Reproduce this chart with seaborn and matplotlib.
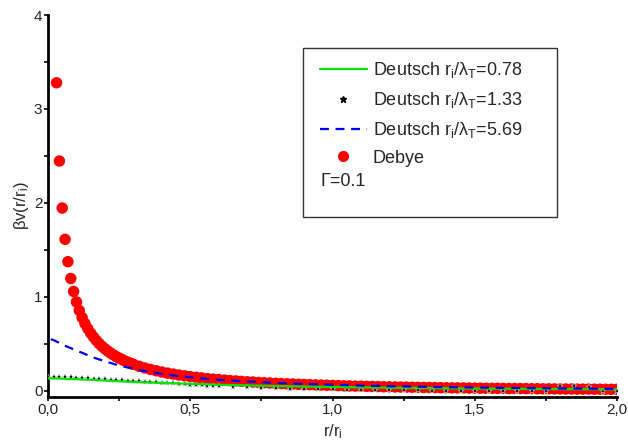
import matplotlib
matplotlib.use("Agg")
import matplotlib.pyplot as plt
import seaborn as sns
import pandas as pd
from matplotlib.patches import Rectangle
from matplotlib.lines import Line2D
from matplotlib.ticker import MultipleLocator, FixedLocator, FixedFormatter

# ---------------- data ----------------
debye_r = [0.03, 0.04, 0.05, 0.06, 0.07, 0.08, 0.09, 0.10, 0.11, 0.12, 0.13, 0.14,
           0.15, 0.16, 0.17, 0.18, 0.19, 0.20, 0.21, 0.22, 0.23, 0.24, 0.25, 0.26,
           0.27, 0.28, 0.29, 0.30, 0.32, 0.34, 0.36, 0.38, 0.40, 0.42, 0.44, 0.46,
           0.48, 0.50, 0.52, 0.54, 0.56, 0.58, 0.60, 0.62, 0.64, 0.66, 0.68, 0.70,
           0.72, 0.74, 0.76, 0.78, 0.80, 0.82, 0.84, 0.86, 0.88, 0.90, 0.92, 0.94,
           0.96, 0.98, 1.00, 1.02, 1.04, 1.06, 1.08, 1.10, 1.12, 1.14, 1.16, 1.18,
           1.20, 1.22, 1.24, 1.26, 1.28, 1.30, 1.32, 1.34, 1.36, 1.38, 1.40, 1.42,
           1.44, 1.46, 1.48, 1.50, 1.52, 1.54, 1.56, 1.58, 1.60, 1.62, 1.64, 1.66,
           1.68, 1.70, 1.72, 1.74, 1.76, 1.78, 1.80, 1.82, 1.84, 1.86, 1.88, 1.90,
           1.92, 1.94, 1.96, 1.98, 2.00]
debye_v = [3.279, 2.446, 1.946, 1.613, 1.375, 1.196, 1.058, 0.947, 0.856, 0.780,
           0.716, 0.662, 0.614, 0.573, 0.536, 0.503, 0.474, 0.448, 0.424, 0.403,
           0.383, 0.365, 0.349, 0.334, 0.319, 0.306, 0.294, 0.283, 0.262, 0.244,
           0.228, 0.214, 0.201, 0.189, 0.179, 0.169, 0.160, 0.152, 0.145, 0.138,
           0.131, 0.125, 0.120, 0.115, 0.110, 0.106, 0.101, 0.097, 0.094, 0.090,
           0.087, 0.084, 0.081, 0.078, 0.075, 0.073, 0.070, 0.068, 0.066, 0.064,
           0.062, 0.060, 0.058, 0.056, 0.054, 0.053, 0.051, 0.050, 0.048, 0.047,
           0.046, 0.044, 0.043, 0.042, 0.041, 0.040, 0.039, 0.038, 0.037, 0.036,
           0.035, 0.034, 0.033, 0.032, 0.032, 0.031, 0.030, 0.029, 0.029, 0.028,
           0.027, 0.027, 0.026, 0.025, 0.025, 0.024, 0.024, 0.023, 0.023, 0.022,
           0.022, 0.021, 0.021, 0.020, 0.020, 0.019, 0.019, 0.019, 0.018, 0.018,
           0.017, 0.017, 0.017]

green_r = [0.0, 0.1, 0.2, 0.3, 0.4, 0.5, 0.6, 0.7, 0.8, 0.9, 1.0, 1.1, 1.2, 1.3,
           1.4, 1.5, 1.6, 1.7, 1.8, 1.9, 2.0]
green_v = [0.135, 0.125, 0.110, 0.095, 0.085, 0.075, 0.065, 0.058, 0.052, 0.046,
           0.042, 0.038, 0.034, 0.031, 0.028, 0.025, 0.023, 0.021, 0.019, 0.018,
           0.016]

black_r = [0.00, 0.02, 0.04, 0.06, 0.08, 0.10, 0.12, 0.14, 0.16, 0.18, 0.20, 0.22,
           0.24, 0.26, 0.28, 0.30, 0.32, 0.34, 0.36, 0.38, 0.40, 0.42, 0.44, 0.46,
           0.48, 0.50, 0.52, 0.54, 0.56, 0.58, 0.60, 0.65, 0.70, 0.75, 0.80, 0.85,
           0.90, 0.95, 1.00, 1.05, 1.10, 1.15, 1.20, 1.25, 1.30, 1.35, 1.40, 1.45,
           1.50, 1.55, 1.60, 1.65, 1.70, 1.75, 1.80, 1.85, 1.90, 1.95, 2.00]
black_v = [0.150, 0.149, 0.147, 0.145, 0.143, 0.140, 0.137, 0.134, 0.131, 0.127,
           0.123, 0.119, 0.115, 0.111, 0.107, 0.104, 0.100, 0.097, 0.094, 0.091,
           0.088, 0.084, 0.080, 0.076, 0.072, 0.068, 0.064, 0.060, 0.056, 0.053,
           0.050, 0.046, 0.042, 0.034, 0.026, 0.022, 0.019, 0.017, 0.015, 0.013,
           0.011, 0.009, 0.008, 0.006, 0.005, 0.004, 0.004, 0.004, 0.004, 0.004,
           0.004, 0.004, 0.004, 0.004, 0.050, 0.050, 0.045, 0.004, 0.004]

blue_r = [0.01, 0.02, 0.04, 0.06, 0.08, 0.10, 0.12, 0.14, 0.16, 0.18, 0.20, 0.25,
          0.30, 0.35, 0.40, 0.45, 0.50, 0.55, 0.60, 0.70, 0.80, 0.90, 1.00, 1.10,
          1.20, 1.30, 1.40, 1.50, 1.60, 1.70, 1.80, 1.90, 2.00]
blue_v = [0.550, 0.540, 0.510, 0.480, 0.455, 0.430, 0.405, 0.380, 0.355, 0.335,
          0.315, 0.270, 0.235, 0.205, 0.180, 0.160, 0.145, 0.130, 0.118, 0.100,
          0.085, 0.074, 0.065, 0.057, 0.050, 0.045, 0.040, 0.036, 0.032, 0.029,
          0.026, 0.024, 0.021]

x_ticks = [0.0, 0.5, 1.0, 1.5, 2.0]
x_tick_labels = ["0,0", "0,5", "1,0", "1,5", "2,0"]
y_ticks = [0, 1, 2, 3, 4]
y_tick_labels = ["0", "1", "2", "3", "4"]

labels = [r"Deutsch r$_\mathrm{i}$/λ$_\mathrm{T}$=0.78",
          r"Deutsch r$_\mathrm{i}$/λ$_\mathrm{T}$=1.33",
          r"Deutsch r$_\mathrm{i}$/λ$_\mathrm{T}$=5.69",
          "Debye"]
gamma_text = "Γ=0.1"

# ---------------- plotting ----------------
sns.set_theme(style="ticks")
plt.rcParams["font.family"] = ["Liberation Sans", "DejaVu Sans"]
plt.rcParams["mathtext.fontset"] = "custom"
plt.rcParams["mathtext.rm"] = "Liberation Sans"
plt.rcParams["mathtext.it"] = "Liberation Sans:italic"

GREEN = "#00e400"
BLUE = "#0000ee"
RED = "#ff0000"

fig = plt.figure(figsize=(6.28, 4.47), dpi=100)
ax = fig.add_axes([48 / 628, 50 / 447, (617 - 48) / 628, (397 - 15) / 447])

df_debye = pd.DataFrame({"r": debye_r, "v": debye_v})
df_green = pd.DataFrame({"r": green_r, "v": green_v})
df_black = pd.DataFrame({"r": black_r, "v": black_v})
df_blue = pd.DataFrame({"r": blue_r, "v": blue_v})

sns.scatterplot(data=df_debye, x="r", y="v", ax=ax, color=RED, s=68,
                edgecolor="none", marker="o", zorder=2)
sns.lineplot(data=df_black, x="r", y="v", ax=ax, color="black", marker="*",
             markersize=5, linestyle="none", markeredgewidth=0.3, zorder=3)
sns.lineplot(data=df_green, x="r", y="v", ax=ax, color=GREEN, linewidth=1.6,
             zorder=4)
sns.lineplot(data=df_blue, x="r", y="v", ax=ax, color=BLUE, linewidth=1.6,
             zorder=5)
ax.lines[-1].set_dashes([4, 3])

ax.set_xlim(0, 2.0)
ax.set_ylim(-0.065, 4.0)
ax.xaxis.set_major_locator(FixedLocator(x_ticks))
ax.xaxis.set_major_formatter(FixedFormatter(x_tick_labels))
ax.yaxis.set_major_locator(FixedLocator(y_ticks))
ax.yaxis.set_major_formatter(FixedFormatter(y_tick_labels))
ax.xaxis.set_minor_locator(MultipleLocator(0.25))
ax.yaxis.set_minor_locator(MultipleLocator(0.5))
ax.tick_params(which="both", direction="out", length=3, width=1.2, color="black",
               labelsize=11, labelcolor="#222222", pad=1)
for s in ["top", "right"]:
    ax.spines[s].set_visible(False)
for s in ["left", "bottom"]:
    ax.spines[s].set_linewidth(2)
    ax.spines[s].set_color("black")

ax.set_xlabel(r"r/r$_\mathrm{i}$", fontsize=12, labelpad=4)
ax.set_ylabel(r"βv(r/r$_\mathrm{i}$)", fontsize=12, labelpad=2)

# legend box
fig.patches.append(Rectangle((303 / 628, 1 - 217 / 447), (557 - 303) / 628,
                             (217 - 48) / 447, transform=fig.transFigure,
                             facecolor="white", edgecolor="#333333", linewidth=1.0,
                             zorder=10))
handles = [Line2D([], [], color=GREEN, linewidth=1.6),
           Line2D([], [], color="black", marker="*", linestyle="none", markersize=5),
           Line2D([], [], color=BLUE, linewidth=1.6, dashes=[4, 3]),
           Line2D([], [], color=RED, marker="o", linestyle="none", markersize=7)]
leg = fig.legend(handles, labels, loc="upper left",
                 bbox_to_anchor=(320 / 628, 1 - 60 / 447), frameon=False,
                 fontsize=13, handlelength=2.6, handletextpad=0.33,
                 labelspacing=0.55, borderaxespad=0, borderpad=0)
leg.set_zorder(11)
fig.text(320 / 628, 1 - 181 / 447, gamma_text, fontsize=13, va="center",
         ha="left", zorder=12)

fig.savefig("out.png", dpi=100)
